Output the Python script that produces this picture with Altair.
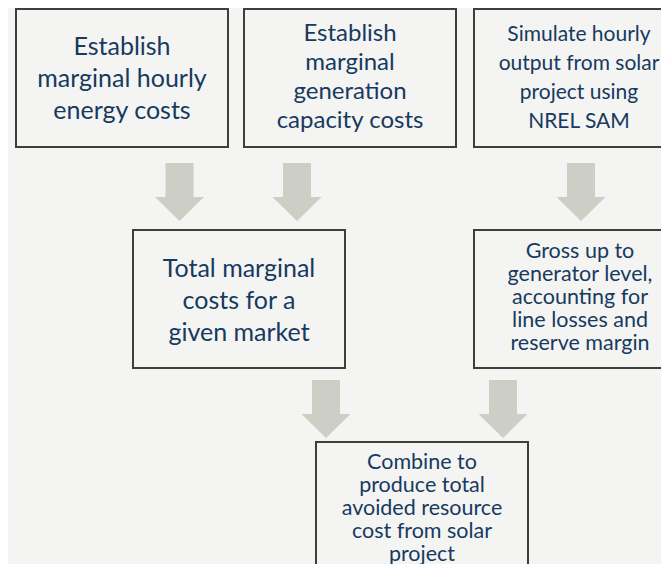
import altair as alt
import pandas as pd

# ---- content ----
box_ids = ["energy", "capacity", "solar", "total", "gross", "combine"]
box_texts = [
    ["Establish", "marginal hourly", "energy costs"],
    ["Establish", "marginal", "generation", "capacity costs"],
    ["Simulate hourly", "output from solar", "project using", "NREL SAM"],
    ["Total marginal", "costs for a", "given market"],
    ["Gross up to", "generator level,", "accounting for", "line losses and", "reserve margin"],
    ["Combine to", "produce total", "avoided resource", "cost from solar", "project"],
]
arrow_from = ["energy", "capacity", "solar", "total", "gross"]
arrow_to = ["total", "total", "gross", "combine", "combine"]

# ---- layout (reference pixel units) ----
box_x0 = [16, 244, 474, 133, 474, 316]
box_x1 = [228, 456, 690, 345, 690, 528]
box_y0 = [7, 7, 7, 228, 228, 440]
box_y1 = [145, 145, 145, 366, 366, 578]
text_cx = [122, 350, 579, 239, 580, 422]
text_cy = [77, 75, 76, 298.5, 296, 506.5]
font_size = [25, 24, 21, 25, 21.5, 21.5]
line_h = [32, 29, 29, 32, 23, 23]

arrow_cx = [179.5, 297, 581, 326, 503]
arrow_top = [161, 161, 161, 378, 378]
arrow_neck = [195, 195, 195, 412, 412]
arrow_tip = [219, 219, 219, 436, 436]
shaft_half = 14
head_half = 24.5

BG = "#F4F4F2"
TXT = "#173A60"
ARW = "#CDCEC5"
EDGE = "#3E3E3E"

boxes = pd.DataFrame({
    "id": box_ids, "x0": box_x0, "x1": box_x1, "y0": box_y0, "y1": box_y1,
    "tx": text_cx,
    "ty": [c - (len(t) - 1) * lh / 2 for c, t, lh in zip(text_cy, box_texts, line_h)],
    "label": box_texts,
})

shafts = pd.DataFrame({
    "arrow": [f"{a}->{b}" for a, b in zip(arrow_from, arrow_to)],
    "x0": [c - shaft_half for c in arrow_cx],
    "x1": [c + shaft_half for c in arrow_cx],
    "y0": arrow_top, "y1": arrow_neck,
})

head_rows = []
for i, (a, b) in enumerate(zip(arrow_from, arrow_to)):
    c = arrow_cx[i]
    name = f"{a}->{b}"
    head_rows.append({"arrow": name, "x": c - head_half, "y": arrow_neck[i], "y2": arrow_neck[i]})
    head_rows.append({"arrow": name, "x": c, "y": arrow_neck[i], "y2": arrow_tip[i]})
    head_rows.append({"arrow": name, "x": c + head_half, "y": arrow_neck[i], "y2": arrow_neck[i]})
heads = pd.DataFrame(head_rows)

W, H = 653, 556
xs = alt.Scale(domain=[8, 8 + W], nice=False, zero=False)
ys = alt.Scale(domain=[6, 6 + H], nice=False, zero=False, reverse=True)

rects = alt.Chart(boxes).mark_rect(fill=BG, stroke=EDGE, strokeWidth=2, clip=True).encode(
    x=alt.X("x0:Q", scale=xs, axis=None), x2="x1:Q",
    y=alt.Y("y0:Q", scale=ys, axis=None), y2="y1:Q",
)

shaft_layer = alt.Chart(shafts).mark_rect(fill=ARW, clip=True).encode(
    x=alt.X("x0:Q", scale=xs, axis=None), x2="x1:Q",
    y=alt.Y("y0:Q", scale=ys, axis=None), y2="y1:Q",
)

head_layer = alt.Chart(heads).mark_area(color=ARW, opacity=1, clip=True).encode(
    x=alt.X("x:Q", scale=xs, axis=None),
    y=alt.Y("y:Q", scale=ys, axis=None), y2="y2:Q",
    detail="arrow:N",
)

text_layers = []
for i, bid in enumerate(box_ids):
    t = alt.Chart(boxes).transform_filter(alt.datum.id == bid).mark_text(
        font="Lato", fontSize=font_size[i], lineHeight=line_h[i], color=TXT,
        align="center", baseline="middle",
    ).encode(
        x=alt.X("tx:Q", scale=xs, axis=None),
        y=alt.Y("ty:Q", scale=ys, axis=None),
        text="label:N",
    )
    text_layers.append(t)

chart = alt.layer(rects, shaft_layer, head_layer, *text_layers).properties(
    width=W, height=H, padding=0, background=BG,
    autosize=alt.AutoSizeParams(type="none"),
).configure_view(stroke=None)

chart.save("out.html", embed_options={"renderer": "svg", "actions": False})
